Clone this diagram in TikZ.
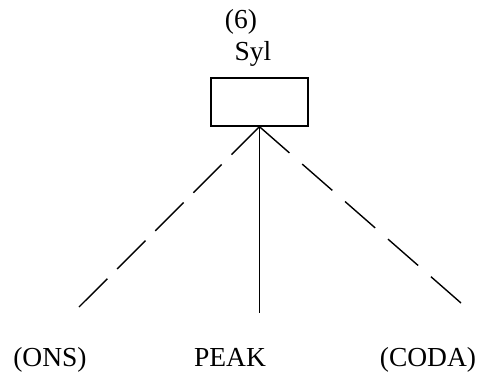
\documentclass[tikz,border=0pt]{standalone}
\usepackage{fontspec}
\setmainfont{Liberation Serif}
\begin{document}
\begin{tikzpicture}[x=1pt,y=1pt,
  lbl/.style={inner sep=0pt,anchor=base,font=\fontsize{27.5}{31}\selectfont},
  ln/.style={line width=1.4pt},
  dlnl/.style={ln,dash pattern=on 40pt off 13.9pt},
  dlnr/.style={ln,dash pattern=on 40pt off 17pt}]
\useasboundingbox (0,0) rectangle (482,373);
\node[lbl] (six) at (241,344) {(6)};
\node[lbl] (syl) at (253,312) {Syl};
\node[draw,ln,minimum width=97pt,minimum height=48pt,inner sep=0pt] (box) at (259.5,271) {};
\coordinate (apex) at (box.south);
\node[lbl] (ons) at (50,7) {(ONS)};
\node[lbl] (peak) at (230,7) {PEAK};
\node[lbl] (coda) at (428,7) {(CODA)};
\coordinate (onsend) at (79,66);
\coordinate (peakend) at (259.5,60);
\coordinate (codaend) at (461,70);
\draw[dlnl] (onsend) -- (apex);
\draw[ln] (apex) -- (peakend);
\draw[dlnr] (codaend) -- (apex);
\end{tikzpicture}
\end{document}
